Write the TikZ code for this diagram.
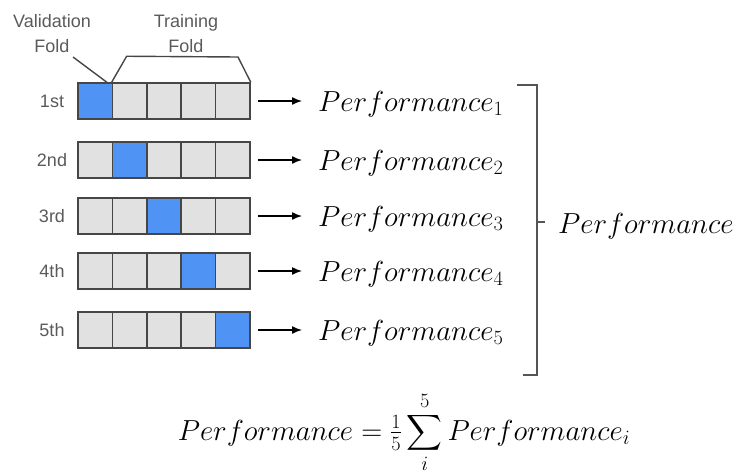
\RequirePackage{fix-cm}
\documentclass[tikz,border=0pt]{standalone}
\usepackage{exscale}
\usepackage{fontspec}
\usetikzlibrary{arrows.meta}
\newfontfamily\labfamily{Liberation Sans}
\newcommand\labfont{\labfamily\fontsize{18}{25}\selectfont}
\newcommand\perffont{\fontsize{29}{34}\selectfont}
\definecolor{cellgray}{RGB}{225,225,225}
\definecolor{valblue}{RGB}{79,148,245}
\definecolor{bordc}{RGB}{70,70,70}
\definecolor{labc}{RGB}{90,90,90}
\definecolor{brc}{RGB}{85,85,85}
\tikzset{
  cell/.style={draw=bordc, line width=1.5pt, minimum width=34.4pt, minimum height=36pt, inner sep=0pt, fill=cellgray},
  val/.style={cell, fill=valblue},
  lab/.style={text=labc, font=\labfont, inner sep=0pt},
  perf/.style={inner sep=0pt, font=\perffont, text=black},
  arr/.style={-{Latex[length=10pt,width=8pt]}, line width=1.4pt, draw=black},
  guide/.style={line width=1.4pt, draw=bordc},
  brk/.style={line width=1.4pt, draw=brc}
}
\begin{document}
\begin{tikzpicture}[x=1pt,y=-1pt]
\useasboundingbox (0,0) rectangle (734,475);
% header labels
\node[lab, align=center, anchor=north] (vlab) at (52,14) {Validation\\Fold};
\node[lab, align=center, anchor=north] (tlab) at (186,14) {Training\\Fold};
% rows
\foreach \i/\yc/\nm in {1/101/1st,2/160/2nd,3/216/3rd,4/271/4th,5/330/5th}{
  \foreach \j in {1,...,5}{
    \ifnum\i=\j
      \node[val] (r\i c\j) at ({78+34.4*(\j-0.5)},\yc) {};
    \else
      \node[cell] (r\i c\j) at ({78+34.4*(\j-0.5)},\yc) {};
    \fi
  }
  \node[lab, anchor=base] (n\i) at (52,\yc+6.5) {\nm};
  \node[perf, anchor=base west] (p\i) at (318,\yc+10) {$Performance_{\i}$};
  \draw[arr, shorten <=7pt, shorten >=16pt] (r\i c5.east) -- (r\i c5.east -| p\i.west);
}
% validation pointer
\coordinate (vp) at (73,57);
\draw[guide] (vp) -- ([xshift=-5pt,yshift=-1pt]r1c1.north east);
% training bracket
\draw[guide] (r1c2.north west) -- ++(15,-26) -- (238,57) -- (r1c5.north east);
% right bracket
\draw[brk] (517,85) -- (537,85) -- (537,375) -- (523,375);
\node[perf, anchor=base west] (ptot) at (558,233) {$Performance$};
\draw[brk] (537,222) -- (545,222);
% formula
\node[perf, anchor=base] (form) at (404,440) {$\displaystyle Performance = {\textstyle\frac{1}{5}}\sum_{i}^{5} Performance_{i}$};
\end{tikzpicture}
\end{document}
